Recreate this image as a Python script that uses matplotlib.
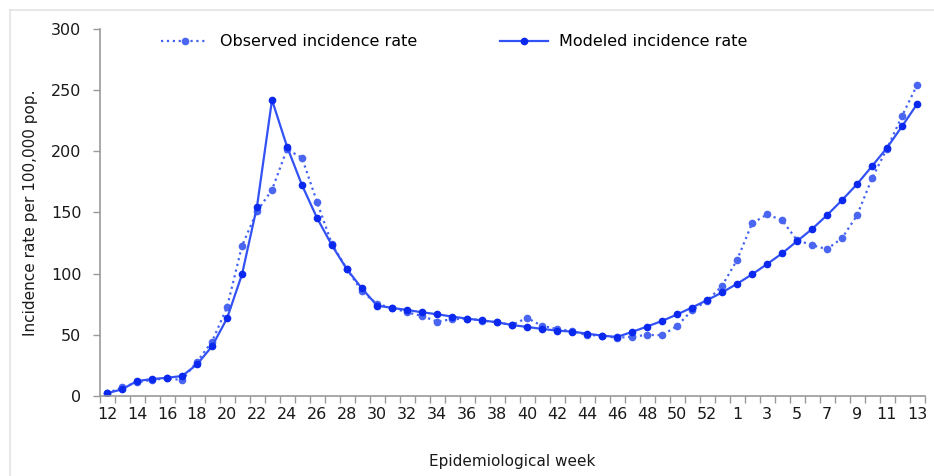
import numpy as np
import matplotlib
matplotlib.use('Agg')
import matplotlib.pyplot as plt
from matplotlib.lines import Line2D

# epidemiological weeks (2020 w12 .. 2021 w13, 2020 had week 53)
weeks = list(range(12, 54)) + list(range(1, 14))

observed = [2, 6.8, 10.9, 13, 14.2, 12.8, 27.8, 44.2, 72.3, 122.7, 151, 168.5,
            201.8, 194.7, 158.7, 124, 103.6, 85.4,
            75.1, 71.9, 68.3, 65.3, 60.7, 62.6, 63.1, 61.5, 60.1, 57.9, 63.7,
            57.1, 54.7, 52.8, 49.7, 49.2, 47.3, 48.4, 49.7, 49.6, 56.9,
            70, 77.6, 89.9,
            111, 141, 148.4, 143.7, 127.4, 123.3, 120, 129, 147.6, 177.9,
            202.4, 228.9, 254.3]

modeled = [2, 5.2, 12, 13.6, 14.7, 16.1, 25.6, 40.4, 63.3, 99.3, 154.9, 242.2,
           204, 172.4, 145.6, 123, 103.4, 87.8,
           73.8, 71.9, 70.2, 68.3, 66.7, 64.8, 63.1, 61.7, 60.1, 57.9, 56.3,
           54.7, 53.3, 52.5, 50.8, 49.2, 48.1, 52.2, 56.6, 61.2, 66.5,
           72.2, 78.2, 84.5,
           91.6, 99.3, 107.7, 116.5, 126.5, 136.4, 147.8, 160.1, 173.2, 187.9,
           203, 220.5, 238.7]

plt.rcParams['font.family'] = ['DejaVu Sans']

fig = plt.figure(figsize=(9.34, 4.76), dpi=100)
ax = fig.add_axes([99.5 / 934, 1 - 395.7 / 476, 825 / 934, (395.7 - 29.3) / 476])

x = np.arange(len(weeks))
ax.plot(x, observed, linestyle=':', color='#4563f2', linewidth=1.6,
        marker='o', markersize=4.5, markerfacecolor='#4a66f0',
        markeredgecolor='#4a66f0', label='Observed incidence rate')
ax.plot(x, modeled, linestyle='-', color='#3352f5', linewidth=1.6,
        marker='o', markersize=4.5, markerfacecolor='#0a28ee',
        markeredgecolor='#0a28ee', label='Modeled incidence rate')

ax.set_xlim(-0.5, len(weeks) - 0.5)
ax.set_ylim(0, 300)
ax.set_yticks(np.arange(0, 301, 50))

# labels on every other week, but 53 is skipped so 52 and 1 sit side by side
lab_idx = [i for i, w in enumerate(weeks) if w != 53 and (i < 42 and i % 2 == 0 or i >= 42 and (i - 42) % 2 == 0)]
ax.set_xticks(lab_idx)
ax.set_xticklabels([str(weeks[i]) for i in lab_idx])
ax.set_xticks(np.arange(-0.5, len(weeks) + 0.5, 1), minor=True)
ax.tick_params(axis='x', which='major', length=0, pad=8, labelsize=11.5, colors='#1a1a1a')
ax.tick_params(axis='x', which='minor', length=5, width=1, color='#999999')
ax.tick_params(axis='y', which='major', length=5, width=1, color='#999999',
               labelsize=11.5, labelcolor='#1a1a1a', pad=8)

for s in ['top', 'right']:
    ax.spines[s].set_visible(False)
for s in ['left', 'bottom']:
    ax.spines[s].set_color('#999999')
    ax.spines[s].set_linewidth(1.2)

ax.set_xlabel('Epidemiological week', fontsize=11, color='#1a1a1a', labelpad=23)
ax.set_ylabel('Incidence rate per 100,000 pop.', fontsize=11, color='#1a1a1a', labelpad=9)

fig.legend(loc='center', bbox_to_anchor=(454 / 934, 1 - 42 / 476), ncol=2,
           frameon=False, fontsize=11.5, handlelength=3.0, handletextpad=0.7,
           columnspacing=5.2)

# light frame around the chart
fig.add_artist(Line2D([10 / 934, 10 / 934], [0, 1 - 10 / 476], color='#e3e3e3', linewidth=1.2))
fig.add_artist(Line2D([10 / 934, 1], [1 - 10 / 476, 1 - 10 / 476], color='#e3e3e3', linewidth=1.2))

fig.savefig('out.png', dpi=100)
